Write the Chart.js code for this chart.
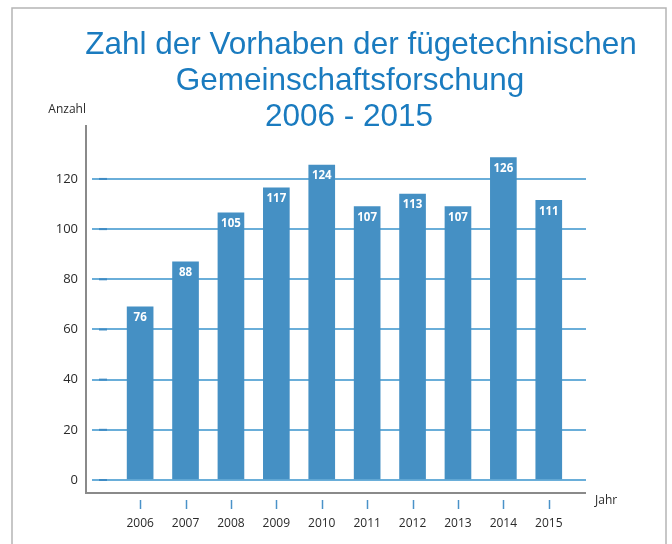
<!DOCTYPE html>
<html>
<head>
<meta charset="utf-8">
<script src="https://cdn.jsdelivr.net/npm/chart.js@4.4.1/dist/chart.umd.min.js"></script>
<style>
  html, body { margin:0; padding:0; background:#fff; }
  #wrap { width:672px; height:544px; position:relative; }
</style>
</head>
<body>
<div id="wrap"><canvas id="chart" width="672" height="544"></canvas></div>
<script>
// --- Data ---
const years = ['2006','2007','2008','2009','2010','2011','2012','2013','2014','2015'];
// bar heights as drawn in the picture
const barHeights = [69, 87, 106.5, 116.5, 125.5, 109, 114, 109, 128.5, 111.5];
// numbers printed inside the bars
const barLabels = ['76','88','105','117','124','107','113','107','126','111'];
const yTicks = [0, 20, 40, 60, 80, 100, 120];
const titleLines = ['Zahl der Vorhaben der fügetechnischen', 'Gemeinschaftsforschung', '2006 - 2015'];

const BLUE = '#4590c4';
const TITLE_BLUE = '#1a7bbf';
const GRID = '#6aaed9';
const AXIS_GRAY = '#8a8a8a';
const TEXT = '#2a2a2a';

// -------- Plugins --------
const decor = {
  id: 'decor',
  beforeDraw(chart){
    const { ctx } = chart;
    ctx.save();
    ctx.fillStyle = '#fff';
    ctx.fillRect(0, 0, chart.width, chart.height);
    // outer frame
    ctx.strokeStyle = '#b5b5b5';
    ctx.lineWidth = 1.5;
    ctx.strokeRect(12, 8, 654, 600);
    // title
    ctx.fillStyle = TITLE_BLUE;
    ctx.font = '31.5px "Liberation Sans", Arial, sans-serif';
    ctx.textAlign = 'center';
    ctx.textBaseline = 'alphabetic';
    const cx = [361, 350, 349], by = [54, 89.5, 125.5];
    titleLines.forEach((t, i) => ctx.fillText(t, cx[i], by[i]));
    // axis captions
    ctx.fillStyle = TEXT;
    ctx.font = '12px "Open Sans", sans-serif';
    ctx.textAlign = 'right';
    ctx.fillText('Anzahl', 86, 113);
    ctx.textAlign = 'left';
    ctx.fillText('Jahr', 595, 504);
    ctx.restore();
  },
  afterDatasetsDraw(chart){
    const { ctx, scales:{ x, y } } = chart;
    ctx.save();
    // small darker marks on the grid lines
    ctx.strokeStyle = '#3f8bc4';
    ctx.lineWidth = 2;
    yTicks.forEach(v => {
      const py = y.getPixelForValue(v);
      ctx.beginPath(); ctx.moveTo(99, py); ctx.lineTo(107, py); ctx.stroke();
    });
    // L shaped axis
    ctx.strokeStyle = AXIS_GRAY;
    ctx.lineWidth = 2;
    ctx.beginPath();
    ctx.moveTo(86, 125);
    ctx.lineTo(86, 493);
    ctx.lineTo(586, 493);
    ctx.stroke();
    // x tick marks
    ctx.strokeStyle = '#4a92c8';
    ctx.lineWidth = 1.5;
    years.forEach((_, i) => {
      const px = Math.round(x.getPixelForValue(i)) + 0.5;
      ctx.beginPath(); ctx.moveTo(px, 500); ctx.lineTo(px, 509); ctx.stroke();
    });
    // values inside the bars
    const meta = chart.getDatasetMeta(0);
    ctx.fillStyle = '#fff';
    ctx.font = 'bold 11.5px "Open Sans", sans-serif';
    ctx.textAlign = 'center';
    ctx.textBaseline = 'middle';
    meta.data.forEach((bar, i) => ctx.fillText(barLabels[i], bar.x, bar.y + 11));
    ctx.restore();
  }
};

// -------- Chart --------
new Chart(document.getElementById('chart'), {
  type: 'bar',
  data: {
    datasets: [{
      data: barHeights.map((v, i) => ({ x: i, y: v })),
      backgroundColor: BLUE,
      borderWidth: 0,
      barThickness: 26
    }]
  },
  options: {
    responsive: false,
    animation: false,
    layout: { padding: { left: 0, right: 86, top: 125, bottom: 0 } },
    plugins: { legend: { display:false }, title: { display:false }, tooltip: { enabled:false } },
    scales: {
      x: {
        type: 'linear',
        offset: false,
        min: -1.06, max: 9.82,
        grid: { display:false, offset:false },
        border: { display:false },
        afterBuildTicks: (s) => { s.ticks = years.map((_, i) => ({ value: i })); },
        afterFit: (s) => { s.height = 64; },
        ticks: {
          padding: 28.5,
          color: TEXT,
          font: { family: '"Open Sans", sans-serif', size: 12 },
          callback: (v) => years[v] ?? ''
        }
      },
      y: {
        min: 0, max: 141.5,
        afterBuildTicks: (s) => { s.ticks = yTicks.map(v => ({ value: v })); },
        afterFit: (s) => { s.width = 92; },
        grid: { color: GRID, lineWidth: 2, drawTicks: false },
        border: { display:false },
        ticks: {
          padding: 14,
          color: TEXT,
          font: { family: '"Open Sans", sans-serif', size: 13 }
        }
      }
    }
  },
  plugins: [decor]
});
</script>
</body>
</html>
